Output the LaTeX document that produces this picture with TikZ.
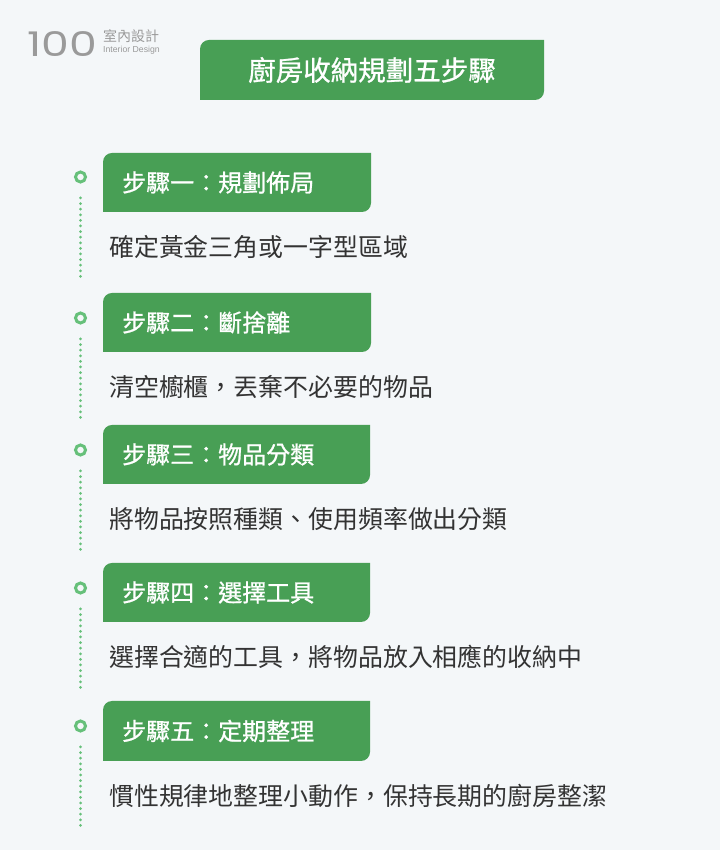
\documentclass[tikz,border=0pt]{standalone}
\usepackage{fontspec}
\setmainfont{Noto Sans CJK TC}
\newfontfamily\medfont[FakeBold=0.9]{Noto Sans CJK TC}
\newfontfamily\logofont{Poppins}
\newfontfamily\smallsans{Liberation Sans}
\definecolor{bg}{HTML}{F4F7F9}
\definecolor{boxgreen}{HTML}{489F55}
\definecolor{ringgreen}{HTML}{66C07A}
\definecolor{txt}{HTML}{333333}
\definecolor{logogray}{HTML}{9A9A9A}
\tikzset{
  steptitle/.style={anchor=west, inner sep=0pt, text=white, font=\medfont\fontsize{24}{26}\selectfont},
  desc/.style={anchor=west, inner sep=0pt, text=txt, font=\fontsize{24.9}{28}\selectfont},
  ring/.style={circle, draw=ringgreen, line width=3pt, fill=bg, minimum size=10pt, inner sep=0pt},
  dotline/.style={draw=ringgreen, line width=3pt, line cap=round, dash pattern=on 0pt off 5.6pt},
}
\newcommand{\cornerbox}[5]{% name, x1, y1(bottom), x2, y2(top)
  \coordinate (#1-sw) at (#2,#3);
  \coordinate (#1-ne) at (#4,#5);
  \fill[boxgreen] (#2,#3) -- (#2,#5-9) arc[start angle=180,end angle=90,radius=9] -- (#4,#5) -- (#4,#3+9) arc[start angle=0,end angle=-90,radius=9] -- cycle;
}
\begin{document}
\begin{tikzpicture}[x=1pt,y=1pt]
\fill[bg] (0,0) rectangle (720,850);
\useasboundingbox (0,0) rectangle (720,850);

% logo
\node[anchor=west, inner sep=0pt, text=logogray, xscale=1.3, font=\logofont\fontsize{34}{34}\selectfont] (logo) at (27,806) {100};
\node[anchor=west, inner sep=0pt, text=logogray, font=\fontsize{14}{14}\selectfont] (logocn) at (103,814) {室內設計};
\node[anchor=west, inner sep=0pt, text=logogray, font=\smallsans\fontsize{8.7}{9}\selectfont] (logoen) at (103,800) {Interior Design};

% title
\cornerbox{tb}{200}{750}{544}{810}
\node[inner sep=0pt, text=white, font=\medfont\fontsize{27.5}{30}\selectfont] (title) at (372,780) {廚房收納規劃五步驟};

% step 1
\cornerbox{b1}{103}{638}{371}{697}
\node[steptitle] (s1) at (122,667.5) {步驟一：規劃佈局};
\node[ring] (c1) at (80.5,673) {};
\draw[dotline] (c1.center) ++(0,-21) -- ++(0,-78.4) coordinate (e1);
\node[desc] (d1) at (109,603) {確定黃金三角或一字型區域};

% step 2
\cornerbox{b2}{103}{498}{371}{557}
\node[steptitle] (s2) at (122,527.5) {步驟二：斷捨離};
\node[ring] (c2) at (80.5,532) {};
\draw[dotline] (c2.center) ++(0,-21) -- ++(0,-78.4) coordinate (e2);
\node[desc] (d2) at (109,463) {清空櫥櫃，丟棄不必要的物品};

% step 3
\cornerbox{b3}{103}{366}{370}{425}
\node[steptitle] (s3) at (122,395.5) {步驟三：物品分類};
\node[ring] (c3) at (80.5,400) {};
\draw[dotline] (c3.center) ++(0,-21) -- ++(0,-78.4) coordinate (e3);
\node[desc] (d3) at (109,331) {將物品按照種類、使用頻率做出分類};

% step 4
\cornerbox{b4}{103}{228}{370}{287}
\node[steptitle] (s4) at (122,257.5) {步驟四：選擇工具};
\node[ring] (c4) at (80.5,262) {};
\draw[dotline] (c4.center) ++(0,-21) -- ++(0,-78.4) coordinate (e4);
\node[desc] (d4) at (109,193) {選擇合適的工具，將物品放入相應的收納中};

% step 5
\cornerbox{b5}{103}{89}{370}{149}
\node[steptitle] (s5) at (122,119) {步驟五：定期整理};
\node[ring] (c5) at (80.5,124) {};
\draw[dotline] (c5.center) ++(0,-21) -- ++(0,-78.4) coordinate (e5);
\node[desc] (d5) at (109,54) {慣性規律地整理小動作，保持長期的廚房整潔};
\end{tikzpicture}
\end{document}
